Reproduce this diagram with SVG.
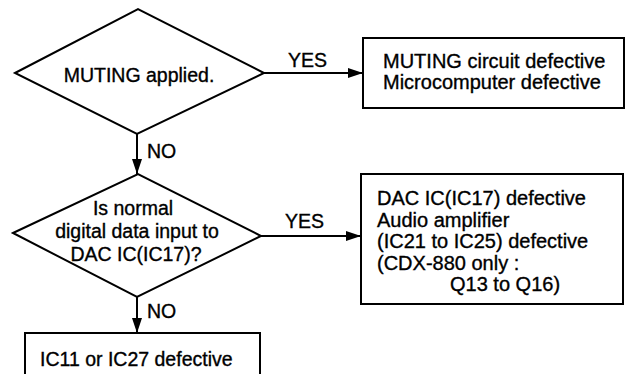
<svg xmlns="http://www.w3.org/2000/svg" width="630" height="374" viewBox="0 0 630 374">
<style>
.s{fill:none;stroke:#000;stroke-width:2}
.t{font-family:"Liberation Sans",Arial,sans-serif;font-size:19.5px;fill:#000;stroke:#000;stroke-width:0.35}
.w{font-size:20px}
.c{text-anchor:middle}
.l{stroke:#000;stroke-width:2;fill:none}
</style>
<defs>
<marker id="ah" markerWidth="15" markerHeight="10" refX="15" refY="5" orient="auto" markerUnits="userSpaceOnUse">
<path d="M0,0 L15,5 L0,10 Z" fill="#000"/>
</marker>
</defs>
<rect width="630" height="374" fill="#fff"/>
<g id="d1">
<polygon class="s" points="15,73 138,9 264,73 137,134"/>
<text class="t c" x="139" y="82">MUTING applied.</text>
</g>
<g id="b1">
<rect class="s" x="363" y="38" width="261" height="70"/>
<text class="t w" x="383" y="68">MUTING circuit defective</text>
<text class="t w" x="383" y="89">Microcomputer defective</text>
</g>
<g id="d2">
<polygon class="s" points="13,233 138,174 261,236 137,297"/>
<text class="t c" x="133" y="215">Is normal</text>
<text class="t c" x="137" y="238">digital data input to</text>
<text class="t c" x="136" y="261">DAC IC(IC17)?</text>
</g>
<g id="b2">
<rect class="s" x="361" y="174" width="262" height="130"/>
<text class="t w" x="377" y="205">DAC IC(IC17) defective</text>
<text class="t w" x="377" y="226.5">Audio amplifier</text>
<text class="t w" x="377" y="248">(IC21 to IC25) defective</text>
<text class="t w" x="377" y="269.5">(CDX-880 only :</text>
<text class="t w" x="450" y="291">Q13 to Q16)</text>
</g>
<g id="b3">
<rect class="s" x="25" y="333" width="235" height="60"/>
<text class="t" x="40" y="366">IC11 or IC27 defective</text>
</g>
<g id="connectors">
<line class="l" x1="264" y1="73" x2="363" y2="73" marker-end="url(#ah)"/>
<text class="t" x="288" y="67">YES</text>
<line class="l" x1="137" y1="134" x2="137" y2="174" marker-end="url(#ah)"/>
<text class="t" x="147" y="158">NO</text>
<line class="l" x1="261" y1="236" x2="361" y2="236" marker-end="url(#ah)"/>
<text class="t" x="285" y="228">YES</text>
<line class="l" x1="137" y1="297" x2="137" y2="333" marker-end="url(#ah)"/>
<text class="t" x="147" y="318">NO</text>
</g>
</svg>
